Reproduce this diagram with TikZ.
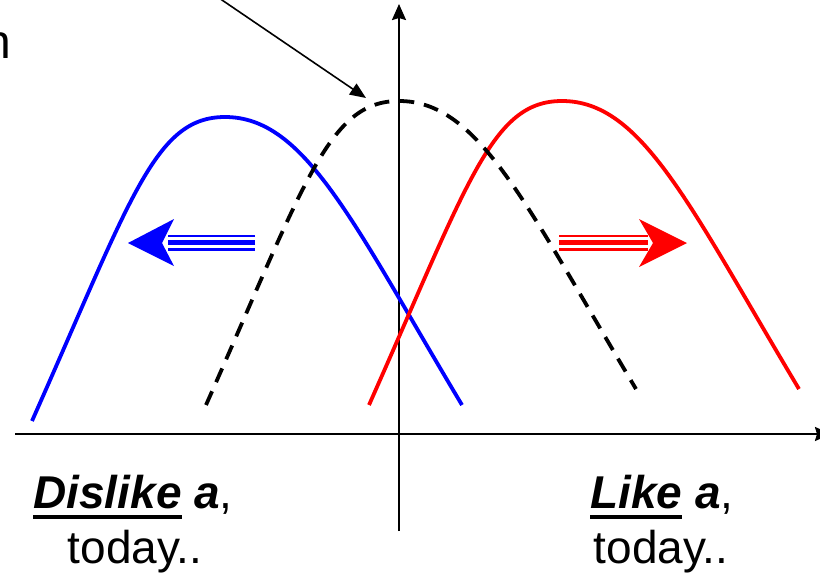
\documentclass[tikz,border=0pt]{standalone}
\usepackage{fontspec}
\setmainfont{Liberation Sans}
\usetikzlibrary{arrows.meta}
\newcommand\myul[1]{\setbox0=\hbox{#1}\rlap{\rule[-11pt]{\wd0}{4pt}}\box0\relax}
\tikzset{
  axisline/.style={line width=2.2pt, draw=black},
  curveline/.style={line width=3.8pt},
  stripe/.style={line width=#1},
  label/.style={inner sep=0pt, anchor=base, font=\fontsize{46}{52}\selectfont},
}
\newcommand\bell{(-193,304) .. controls (-93,79) and (-70,0) .. (0,0) .. controls (80,0) and (127,104) .. (237,288)}
\begin{document}
\begin{tikzpicture}[x=1pt,y=-1pt]
\useasboundingbox (0,0) rectangle (820,573);
\clip (0,0) rectangle (820,573);
% axes
\coordinate (xstart) at (15,434);
\coordinate (xend) at (831,434);
\coordinate (ybot) at (399,531);
\coordinate (ytop) at (399,4);
\draw[axisline, -{Stealth[length=16pt,width=14pt,inset=2pt]}] (xstart) -- (xend);
\draw[axisline, -{Stealth[length=16pt,width=14pt,inset=2pt]}] (ybot) -- (ytop);
% curves
\begin{scope}[shift={(225,117)}]
  \draw[curveline, blue] \bell;
\end{scope}
\begin{scope}[shift={(562,101)}]
  \draw[curveline, red] \bell;
\end{scope}
\begin{scope}[shift={(399,101)}]
  \draw[curveline, black, dash pattern=on 15pt off 10pt] \bell;
\end{scope}
% annotation arrow
\coordinate (annstart) at (219,-2);
\coordinate (annend) at (366,98);
\draw[line width=1.6pt, -{Triangle[length=16pt,width=13pt]}] (annstart) -- (annend);
% blue fat arrow
\foreach \yy/\ww in {236/2.5pt, 242.5/5pt, 249.2/3pt}
  \draw[blue, stripe=\ww] (255,\yy) -- (168,\yy);
\fill[blue] (128,243) -- (174,219) -- (162,243) -- (174,266) -- cycle;
% red fat arrow
\foreach \yy/\ww in {236/2.5pt, 242.5/5pt, 249.2/3pt}
  \draw[red, stripe=\ww] (559,\yy) -- (648,\yy);
\fill[red] (687,243) -- (639,219) -- (653,243) -- (639,267) -- cycle;
% texts
\node[label] (dislike) at (133,508) {\myul{\bfseries\itshape Dislike} {\bfseries\itshape a},};
\node[label] (todayl) at (135,563) {today..};
\node[label] (like) at (662,508) {\myul{\bfseries\itshape Like} {\bfseries\itshape a},};
\node[label] (todayr) at (661,563) {today..};
\node[inner sep=0pt, anchor=base east, font=\fontsize{48}{54}\selectfont] (ncut) at (11,58) {n};
\end{tikzpicture}
\end{document}
